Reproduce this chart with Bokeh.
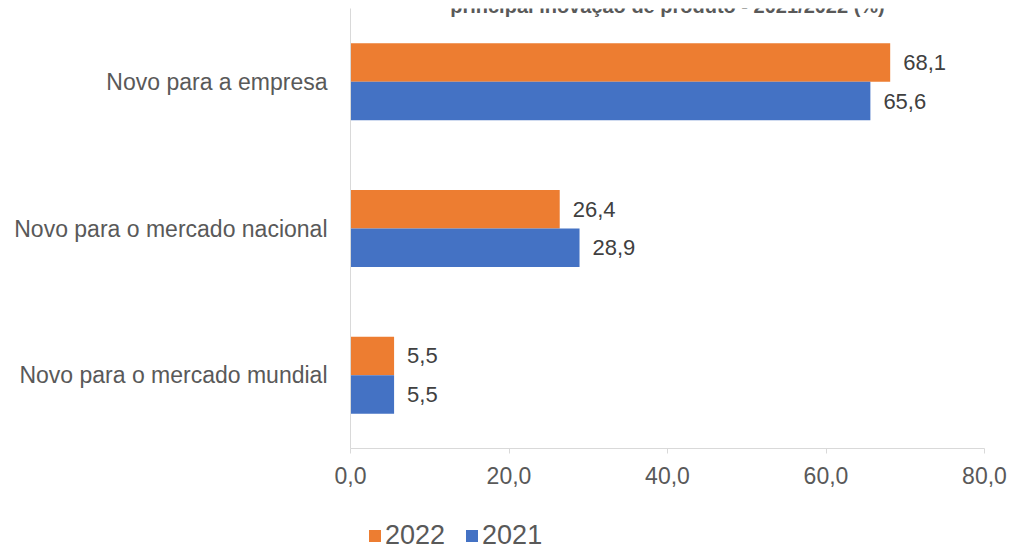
from bokeh.plotting import figure
from bokeh.layouts import column
from bokeh.models import FactorRange, Range1d, Legend, LegendItem, Label, FixedTicker, ColumnDataSource
from bokeh.transform import dodge
from bokeh.core.properties import value
from bokeh.embed import file_html
from bokeh.resources import INLINE

categories = ["Novo para o mercado mundial", "Novo para o mercado nacional", "Novo para a empresa"]
values_2022 = [5.5, 26.4, 68.1]
values_2021 = [5.5, 28.9, 65.6]
series_names = ["2022", "2021"]
x_ticks = [0, 20, 40, 60, 80]
x_tick_labels = ["0,0", "20,0", "40,0", "60,0", "80,0"]
title_text = "principal inovação de produto - 2021/2022 (%)"

ORANGE = "#ED7D31"
BLUE = "#4472C4"
TXT = "#595959"
AXIS = "#D9D9D9"
FONT = "Liberation Sans"

def fmt(v):
    return f"{v:.1f}".replace(".", ",")

src = ColumnDataSource(dict(
    cat=categories,
    v2022=values_2022,
    v2021=values_2021,
    l2022=[fmt(v) for v in values_2022],
    l2021=[fmt(v) for v in values_2021],
))

p = figure(width=1009, height=503, output_backend="svg", toolbar_location=None,
           y_range=FactorRange(*categories, range_padding=0), x_range=Range1d(0, 80),
           min_border_left=350, min_border_right=25, min_border_top=8, min_border_bottom=55)
p.outline_line_color = None
p.xgrid.visible = False
p.ygrid.visible = False

off = 0.131
h = 0.2625
r22 = p.hbar(y=dodge("cat", off, range=p.y_range), right="v2022", left=0, height=h,
             source=src, fill_color=ORANGE, line_color=None)
r21 = p.hbar(y=dodge("cat", -off, range=p.y_range), right="v2021", left=0, height=h,
             source=src, fill_color=BLUE, line_color=None)

for col, o in (("v2022", off), ("v2021", -off)):
    lab = "l" + col[1:]
    p.text(x=col, y=dodge("cat", o, range=p.y_range), text=lab, source=src,
           x_offset=13, text_baseline="middle", text_align="left",
           text_font=value(FONT), text_font_size="22px", text_color="#404040")

# axes
p.xaxis.ticker = FixedTicker(ticks=x_ticks)
p.xaxis.major_label_overrides = {t: l for t, l in zip(x_ticks, x_tick_labels)}
p.xaxis.axis_line_color = AXIS
p.xaxis.major_tick_line_color = AXIS
p.xaxis.major_tick_in = 0
p.xaxis.major_tick_out = 5
p.xaxis.minor_tick_line_color = None
p.xaxis.major_label_text_font = FONT
p.xaxis.major_label_text_font_size = "23px"
p.xaxis.major_label_text_color = TXT
p.xaxis.major_label_standoff = 13

p.yaxis.axis_line_color = AXIS
p.yaxis.major_tick_line_color = None
p.yaxis.minor_tick_line_color = None
p.yaxis.major_label_text_font = FONT
p.yaxis.major_label_text_font_size = "23px"
p.yaxis.major_label_text_color = TXT
p.yaxis.major_label_standoff = 17

# title, clipped at the top edge like the reference
p.add_layout(Label(x=40, y=3 + 3 / 146.67, text=title_text, text_align="center",
                   text_baseline="alphabetic", text_font=FONT, text_font_size="20px",
                   text_font_style="bold", text_color=TXT))

# legend strip below the chart (frame aligned with the chart's frame by the column layout)
p2 = figure(width=1009, height=48, output_backend="svg", toolbar_location=None,
            x_range=Range1d(0, 80), y_range=FactorRange(*categories),
            x_axis_location=None, y_axis_location=None,
            min_border_left=0, min_border_right=0, min_border_top=0, min_border_bottom=0)
p2.outline_line_color = None
p2.xgrid.visible = False
p2.ygrid.visible = False
# zero-height proxies: they give the legend its swatches without drawing any bar
l22 = p2.hbar(y="cat", right="v2022", left=0, height=0, source=src,
              fill_color=ORANGE, line_color=None)
l21 = p2.hbar(y="cat", right="v2021", left=0, height=0, source=src,
              fill_color=BLUE, line_color=None)

legend = Legend(items=[LegendItem(label=series_names[0], renderers=[l22]),
                       LegendItem(label=series_names[1], renderers=[l21])],
                orientation="horizontal", location=(17, 0),
                glyph_width=15, glyph_height=15, label_standoff=3, spacing=19,
                padding=0, margin=0, border_line_color=None, background_fill_alpha=0,
                label_text_font=FONT, label_text_font_size="27px", label_text_color=TXT)
p2.add_layout(legend, "center")

layout = column(p, p2, spacing=0)
open("out.html", "w").write(file_html(layout, INLINE))
